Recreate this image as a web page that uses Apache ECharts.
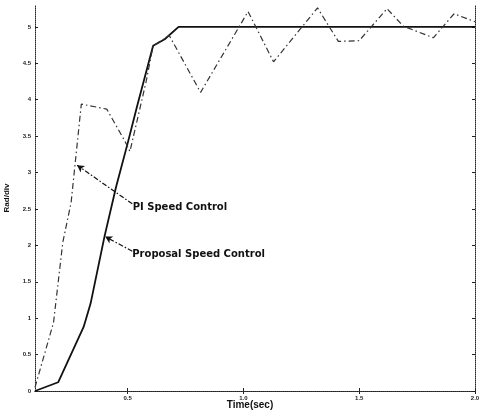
<!DOCTYPE html>
<html><head><meta charset="utf-8">
<script src="https://cdn.jsdelivr.net/npm/echarts@6/dist/echarts.min.js"></script>
<style>html,body{margin:0;padding:0;background:#fff}#c{width:482px;height:414px}</style>
</head><body><div id="c"></div>
<script>
// Data (time in sec, speed in rad/div)
const proposalT = [0.1, 0.2, 0.31, 0.34, 0.40, 0.45, 0.50, 0.54, 0.61, 0.66, 0.72, 2.0];
const proposalV = [0.0, 0.12, 0.88, 1.2, 2.12, 2.8, 3.4, 3.9, 4.74, 4.83, 5.0, 5.0];
const piT = [0.1, 0.18, 0.22, 0.256, 0.30, 0.41, 0.49, 0.51, 0.58, 0.61, 0.68, 0.815, 1.02, 1.13, 1.32, 1.41, 1.50, 1.62, 1.69, 1.82, 1.91, 2.0];
const piV = [0.05, 0.94, 2.04, 2.59, 3.94, 3.87, 3.42, 3.29, 4.25, 4.74, 4.88, 4.10, 5.21, 4.52, 5.26, 4.80, 4.81, 5.25, 5.01, 4.85, 5.18, 5.07];
const xTicks = [0.5, 1.0, 1.5, 2.0];
const yTicks = [0, 0.5, 1, 1.5, 2, 2.5, 3, 3.5, 4, 4.5, 5];
const annotations = [
  {text: 'PI Speed Control', from: [0.52, 2.57], to: [0.282, 3.10], at: [0.522, 2.52]},
  {text: 'Proposal Speed Control', from: [0.52, 1.92], to: [0.403, 2.12], at: [0.52, 1.87]}
];

const zip = (a, b) => a.map((v, i) => [v, b[i]]);
const frame = {lineStyle: {color: '#222', width: 1, type: 'dotted'}};
const tickLab = {fontSize: 6, fontWeight: 'bold', color: '#222', margin: 4, fontFamily: 'Liberation Sans'};
const chart = echarts.init(document.getElementById('c'));
chart.setOption({
  animation: false,
  backgroundColor: '#fff',
  grid: {left: 35, right: 7, top: 5, bottom: 23, containLabel: false, outerBoundsMode: 'none'},
  xAxis: [{
    type: 'value', min: 0.1, max: 2.0, position: 'bottom',
    name: 'Time(sec)', nameLocation: 'middle', nameGap: 9, nameMoveOverlap: false,
    nameTextStyle: {fontFamily: 'Liberation Sans', fontWeight: 'bold', fontSize: 10, color: '#111', padding: [0, 10, 0, 0]},
    axisLine: frame, splitLine: {show: false},
    axisTick: {inside: true, length: 3, customValues: xTicks, lineStyle: {color: '#222'}},
    axisLabel: {customValues: xTicks, formatter: v => v.toFixed(1), ...tickLab}
  }, {
    type: 'value', min: 0.1, max: 2.0, position: 'top',
    axisLine: frame, splitLine: {show: false},
    axisTick: {inside: true, length: 3, customValues: xTicks, lineStyle: {color: '#222'}},
    axisLabel: {show: false}
  }],
  yAxis: [{
    type: 'value', min: 0, max: 5.3, position: 'left',
    name: 'Rad/div', nameLocation: 'middle', nameGap: 24, nameRotate: 90, nameMoveOverlap: false,
    nameTextStyle: {fontFamily: 'Liberation Sans', fontWeight: 'bold', fontSize: 8, color: '#111'},
    axisLine: {show: true, ...frame}, splitLine: {show: false},
    axisTick: {inside: true, length: 3, customValues: yTicks, lineStyle: {color: '#222'}},
    axisLabel: {customValues: yTicks, ...tickLab}
  }, {
    type: 'value', min: 0, max: 5.3, position: 'right',
    axisLine: {show: true, ...frame}, splitLine: {show: false},
    axisTick: {show: true, inside: true, length: 3, customValues: yTicks, lineStyle: {color: '#222'}},
    axisLabel: {show: false}
  }],
  series: [{
    name: 'Proposal Speed Control', type: 'line', data: zip(proposalT, proposalV),
    symbol: 'none', lineStyle: {color: '#111', width: 1.8}
  }, {
    name: 'PI Speed Control', type: 'line', data: zip(piT, piV),
    symbol: 'none', lineStyle: {color: '#333', width: 1.2, type: [6, 3, 1.5, 3]},
    markLine: {
      silent: true, symbol: ['none', 'arrow'], symbolSize: [6, 7],
      lineStyle: {color: '#111', width: 1.2, type: [5, 2, 1.5, 2]},
      label: {show: false},
      data: annotations.map(a => [{coord: a.from}, {coord: a.to}])
    },
    markPoint: {
      silent: true, symbol: 'circle', symbolSize: 0,
      label: {show: true, position: 'right', distance: 0, color: '#111', fontFamily: 'DejaVu Sans', fontWeight: 'bold', fontSize: 10,
        formatter: p => p.name},
      data: annotations.map(a => ({name: a.text, coord: a.at}))
    }
  }]
});
</script></body></html>
